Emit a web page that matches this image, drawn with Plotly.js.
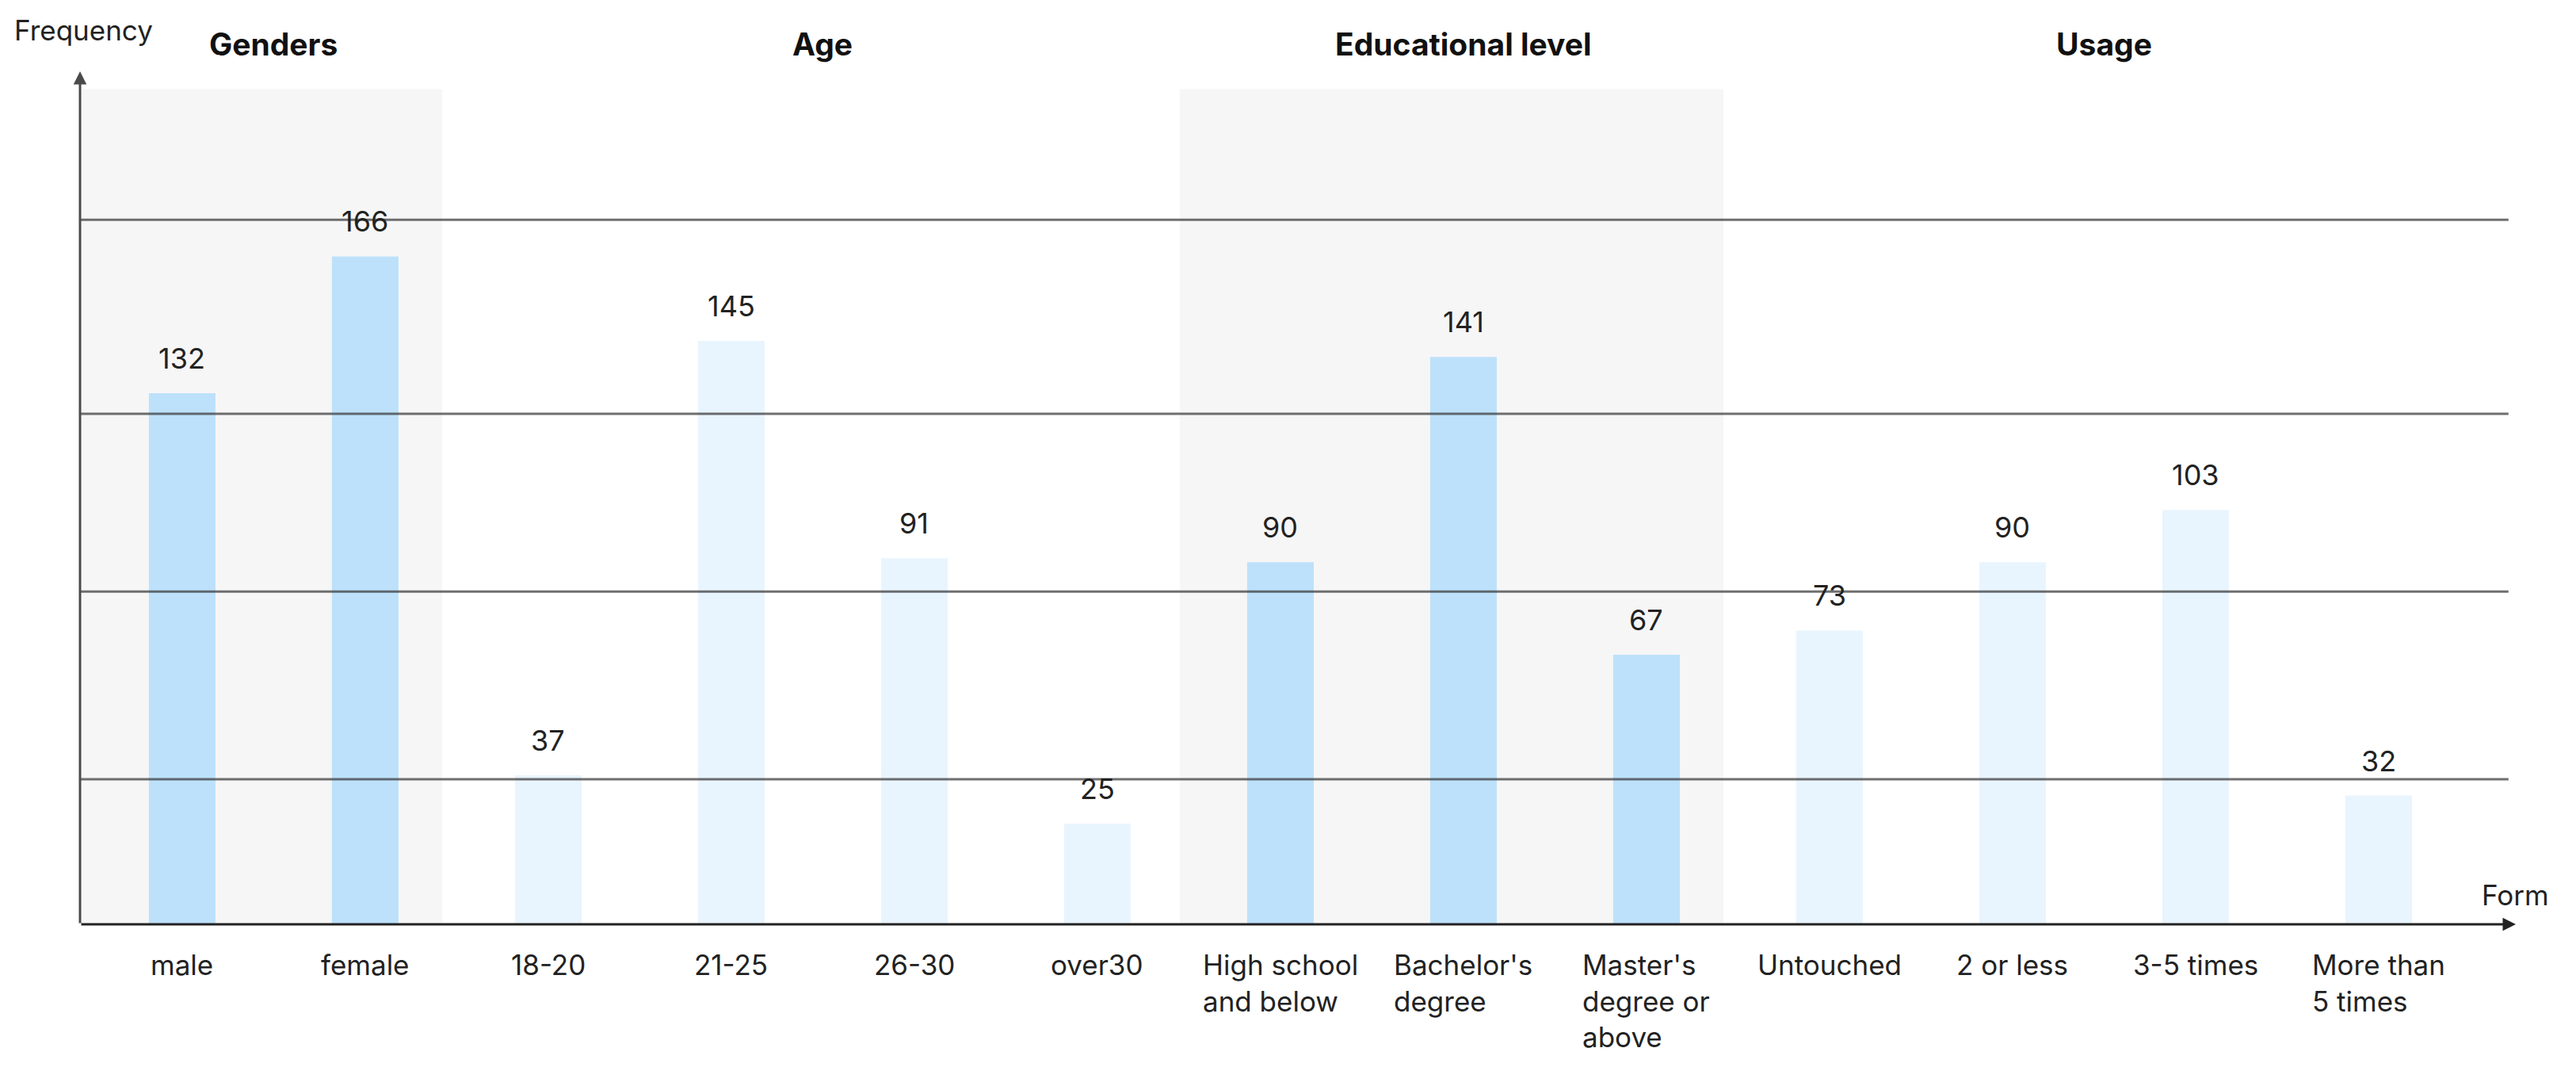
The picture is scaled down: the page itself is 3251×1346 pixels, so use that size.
<!DOCTYPE html>
<html>
<head>
<meta charset="utf-8">
<script src="https://cdn.plot.ly/plotly-3.0.1.min.js"></script>
<style>html,body{margin:0;padding:0;background:#fff;}#chart{width:3251px;height:1346px;}</style>
</head>
<body>
<div id="chart"></div>
<script>
// ---- data ----
const categories = ["male","female","18-20","21-25","26-30","over30","High school and below","Bachelor's degree","Master's degree or above","Untouched","2 or less","3-5 times","More than 5 times"];
const tickLabels = ["male","female","18-20","21-25","26-30","over30","High school<br>and below","Bachelor's<br>degree","Master's<br>degree or<br>above","Untouched","2 or less","3-5 times","More than<br>5 times"];
const values = [132,166,37,145,91,25,90,141,67,73,90,103,32];
const groupNames = ["Genders","Age","Educational level","Usage"];
const groupSizes = [2,4,3,4];
const groupShaded = [true,false,true,false];
const yAxisTitle = "Frequency";
const xAxisTitle = "Form";

// ---- styles ----
const FONT = "Inter, 'Noto Sans', sans-serif";
const darkBar = "#bde1fa";
const lightBar = "#e9f5fe";
const bandColor = "#f6f6f6";
const xRange = [-0.558, 12.749];
const yRange = [0, 212];

const groupOf = [];
const groupStart = [];
let idx = 0;
groupSizes.forEach((n, g) => { groupStart.push(idx); for (let i = 0; i < n; i++) groupOf.push(g); idx += n; });
const barColors = groupOf.map(g => groupShaded[g] ? darkBar : lightBar);

const trace = {
  type: "bar",
  x: categories,
  y: values,
  marker: { color: barColors, line: { width: 0 } },
  hoverinfo: "x+y"
};

const shapes = [];
groupSizes.forEach((n, g) => {
  if (!groupShaded[g]) return;
  const s = groupStart[g], e = s + n - 1;
  shapes.push({
    type: "rect", layer: "below", xref: "x", yref: "paper",
    x0: Math.max(xRange[0], s - 0.55), x1: e + 0.42,
    y0: 0, y1: 0.979,
    fillcolor: bandColor, line: { width: 0 }
  });
});
// decorative horizontal rules
[0.170, 0.390, 0.5985, 0.826].forEach(p => {
  shapes.push({
    type: "line", layer: "above", xref: "paper", yref: "paper",
    x0: 0, x1: 0.997, y0: p, y1: p,
    line: { color: "rgba(55,55,55,0.72)", width: 3 }
  });
});

const annotations = [];
// value labels
categories.forEach((c, i) => {
  annotations.push({
    x: i, y: values[i], xref: "x", yref: "y",
    text: String(values[i]), showarrow: false,
    yanchor: "bottom", yshift: 20,
    font: { family: FONT, size: 36, color: "#222" }
  });
});
// category labels
categories.forEach((c, i) => {
  annotations.push({
    x: i, y: -0.026, xref: "x", yref: "paper",
    text: tickLabels[i], showarrow: false,
    xanchor: "center", yanchor: "top", align: "left",
    font: { family: FONT, size: 35, color: "#222" }
  });
});
// group titles
groupSizes.forEach((n, g) => {
  annotations.push({
    x: groupStart[g] + (n - 1) / 2, y: 1.0316, xref: "x", yref: "paper",
    text: "<b>" + groupNames[g] + "</b>", showarrow: false,
    xanchor: "center", yanchor: "middle",
    font: { family: FONT, size: 39, color: "#111" }
  });
});
// axis titles
annotations.push({
  x: 0.0016, y: 1.0485, xref: "paper", yref: "paper",
  text: yAxisTitle, showarrow: false, xanchor: "center", yanchor: "middle",
  font: { family: FONT, size: 35, color: "#222" }
});
annotations.push({
  x: 0.9997, y: 0.034, xref: "paper", yref: "paper",
  text: xAxisTitle, showarrow: false, xanchor: "center", yanchor: "middle",
  font: { family: FONT, size: 35, color: "#222" }
});
// axis arrows
annotations.push({
  x: 0, y: 1, xref: "paper", yref: "paper", text: "", showarrow: true,
  ax: 0, ay: 1076, axref: "pixel", ayref: "pixel",
  arrowhead: 2, arrowsize: 1.1, arrowwidth: 3, arrowcolor: "#4a4a4a"
});
annotations.push({
  x: 1, y: 0, xref: "paper", yref: "paper", text: "", showarrow: true,
  ax: -3074, ay: 0, axref: "pixel", ayref: "pixel",
  arrowhead: 2, arrowsize: 1.1, arrowwidth: 3, arrowcolor: "#222"
});

const layout = {
  width: 3251, height: 1346,
  margin: { l: 101, r: 76, t: 90, b: 180, pad: 0 },
  paper_bgcolor: "#fff", plot_bgcolor: "rgba(0,0,0,0)",
  font: { family: FONT, size: 35, color: "#222" },
  showlegend: false,
  bargap: 0.636,
  xaxis: {
    type: "category", range: xRange, showticklabels: false, ticks: "",
    showgrid: false, zeroline: false, showline: false, fixedrange: true
  },
  yaxis: {
    range: yRange, showticklabels: false, ticks: "", showgrid: false,
    zeroline: false, showline: false, fixedrange: true
  },
  shapes: shapes,
  annotations: annotations
};

Plotly.newPlot("chart", [trace], layout, { displayModeBar: false, staticPlot: true });
</script>
</body>
</html>
